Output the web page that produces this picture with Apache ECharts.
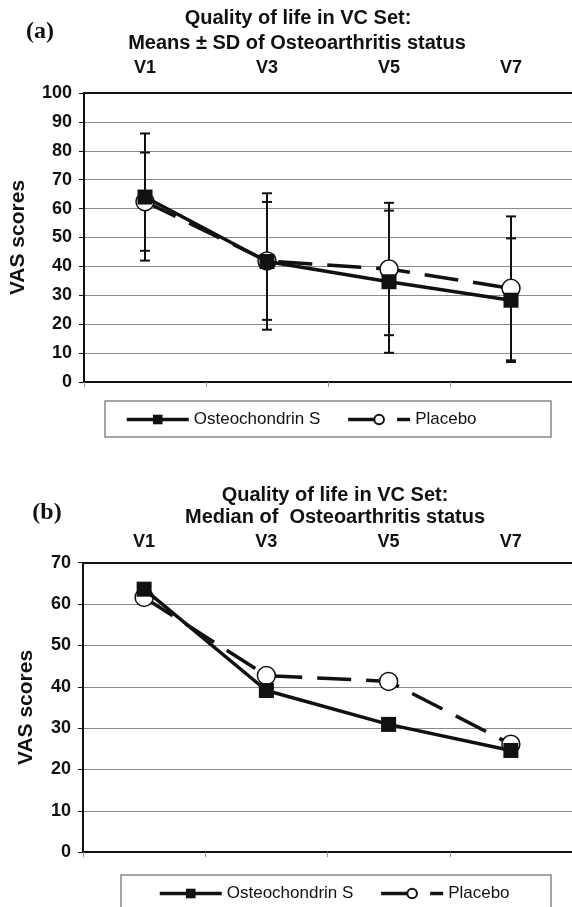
<!DOCTYPE html>
<html>
<head>
<meta charset="utf-8">
<script src="https://cdn.jsdelivr.net/npm/echarts@6/dist/echarts.min.js"></script>
<style>
html, body { margin: 0; padding: 0; background: #fff; }
#chartA { position: absolute; left: 0; top: 0; width: 572px; height: 460px; }
#chartB { position: absolute; left: 0; top: 460px; width: 572px; height: 447px; }
</style>
</head>
<body>
<div id="chartA"></div>
<div id="chartB"></div>
<script>
// visits on the x axis
var visits = ['V1', 'V3', 'V5', 'V7'];

// (a) means and SD
var meanOsteoA = [64, 41.7, 34.7, 28.3];
var sdOsteoA = [22, 23.6, 24.6, 21.4];
var meanPlaceboA = [62.4, 41.9, 39.1, 32.4];
var sdPlaceboA = [17, 20.4, 22.9, 24.9];

// (b) medians
var medianOsteoB = [63.6, 39.1, 30.9, 24.6];
var medianPlaceboB = [61.6, 42.7, 41.3, 26.1];

var FONT = "'Liberation Sans', Arial, sans-serif";
var INK = '#111';
var DASH = [34, 15];

$ready();

function $ready(){
	panelA();
	panelB();
}

function errorData(means, sds){
	var out = [];
	for (var i = 0; i < means.length; i++) {
		out.push([i, means[i] - sds[i], means[i] + sds[i]]);
	}
	return out;
}

function renderErrorBar(params, api){
	var x = api.value(0);
	var lo = api.coord([x, api.value(1)]);
	var hi = api.coord([x, api.value(2)]);
	var cap = 5;
	var st = { stroke: INK, lineWidth: 2 };
	return {
		type: 'group',
		children: [
			{ type: 'line', shape: { x1: lo[0], y1: lo[1], x2: hi[0], y2: hi[1] }, style: st },
			{ type: 'line', shape: { x1: lo[0] - cap, y1: lo[1], x2: lo[0] + cap, y2: lo[1] }, style: st },
			{ type: 'line', shape: { x1: hi[0] - cap, y1: hi[1], x2: hi[0] + cap, y2: hi[1] }, style: st }
		]
	};
}

function axes(top, bottom, max, nameGap, labelMargin){
	return {
		grid: { left: 83, right: 0, top: top, bottom: bottom },
		xAxis: [{
			type: 'category',
			data: visits,
			position: 'bottom',
			boundaryGap: true,
			axisLine: { lineStyle: { color: INK, width: 2 } },
			axisTick: { show: true, length: 5, lineStyle: { color: '#999', width: 1 } },
			axisLabel: { show: false },
			splitLine: { show: false }
		}, {
			type: 'category',
			data: visits,
			position: 'top',
			boundaryGap: true,
			axisLine: { lineStyle: { color: INK, width: 2 } },
			axisTick: { show: false },
			axisLabel: { margin: labelMargin, color: INK, fontFamily: FONT, fontWeight: 'bold', fontSize: 18 },
			splitLine: { show: false }
		}],
		yAxis: {
			type: 'value',
			min: 0,
			max: max,
			interval: 10,
			name: 'VAS scores',
			nameLocation: 'middle',
			nameGap: nameGap,
			nameTextStyle: { color: INK, fontFamily: FONT, fontWeight: 'bold', fontSize: 21 },
			axisLine: { show: true, lineStyle: { color: INK, width: 2 } },
			axisTick: { show: true, length: 5, lineStyle: { color: INK, width: 1 } },
			axisLabel: { margin: 12, color: INK, fontFamily: FONT, fontWeight: 'bold', fontSize: 18 },
			splitLine: { lineStyle: { color: '#8a8a8a', width: 1 } }
		}
	};
}

function lineSeries(name, data, dashed){
	return {
		name: name,
		type: 'line',
		data: data,
		xAxisIndex: 0,
		symbol: dashed ? 'circle' : 'rect',
		symbolSize: dashed ? 18 : 15,
		z: dashed ? 3 : 4,
		itemStyle: dashed ? { color: '#fff', borderColor: INK, borderWidth: 1.5 } : { color: INK },
		lineStyle: { color: INK, width: 3.5, type: dashed ? DASH : 'solid' }
	};
}

function legendBlock(left, top){
	return {
		data: ['Osteochondrin S', 'Placebo'],
		left: left,
		top: top,
		padding: 0,
		itemWidth: 62,
		itemHeight: 12,
		itemGap: 26,
		lineStyle: { width: 3.5, color: INK },
		textStyle: { color: INK, fontFamily: FONT, fontSize: 17 }
	};
}

function textEl(text, x, y, font){
	return {
		type: 'text',
		x: x,
		y: y,
		style: { text: text, font: font, fill: INK, textAlign: 'center', textVerticalAlign: 'middle' }
	};
}

function panelA(){
	var dom = document.getElementById("chartA");
	var myChart = echarts.init(dom);
	var option = axes(93, 460 - 382, 100, 55, 16);
	option.animation = false;
	option.legend = legendBlock(125, 411);
	option.graphic = [
		textEl('(a)', 40, 32, "bold 24px 'Liberation Serif', 'Times New Roman', serif"),
		textEl('Quality of life in VC Set:', 298, 18, 'bold 20px ' + FONT),
		textEl('Means \u00b1 SD of Osteoarthritis status', 297, 43, 'bold 20px ' + FONT),
		{ type: 'rect', shape: { x: 105, y: 401, width: 446, height: 36 }, style: { fill: 'none', stroke: '#888', lineWidth: 1.5 } }
	];
	option.series = [
		{ type: 'custom', name: 'sdPlacebo', renderItem: renderErrorBar, data: errorData(meanPlaceboA, sdPlaceboA), encode: { x: 0, y: [1, 2] }, z: 2 },
		{ type: 'custom', name: 'sdOsteo', renderItem: renderErrorBar, data: errorData(meanOsteoA, sdOsteoA), encode: { x: 0, y: [1, 2] }, z: 2 },
		lineSeries('Placebo', meanPlaceboA, true),
		lineSeries('Osteochondrin S', meanOsteoA, false)
	];
	myChart.setOption(option, true);
}

function panelB(){
	var dom = document.getElementById("chartB");
	var myChart = echarts.init(dom);
	var option = axes(102.7, 447 - 392.2, 70, 46, 12);
	option.animation = false;
	option.legend = legendBlock(158, 425);
	option.graphic = [
		textEl('(b)', 47, 53, "bold 24px 'Liberation Serif', 'Times New Roman', serif"),
		textEl('Quality of life in VC Set:', 335, 35, 'bold 20px ' + FONT),
		textEl('Median of  Osteoarthritis status', 335, 57, 'bold 20px ' + FONT),
		{ type: 'rect', shape: { x: 121, y: 415, width: 430, height: 40 }, style: { fill: 'none', stroke: '#888', lineWidth: 1.5 } }
	];
	option.series = [
		lineSeries('Placebo', medianPlaceboB, true),
		lineSeries('Osteochondrin S', medianOsteoB, false)
	];
	myChart.setOption(option, true);
}
</script>
</body>
</html>
